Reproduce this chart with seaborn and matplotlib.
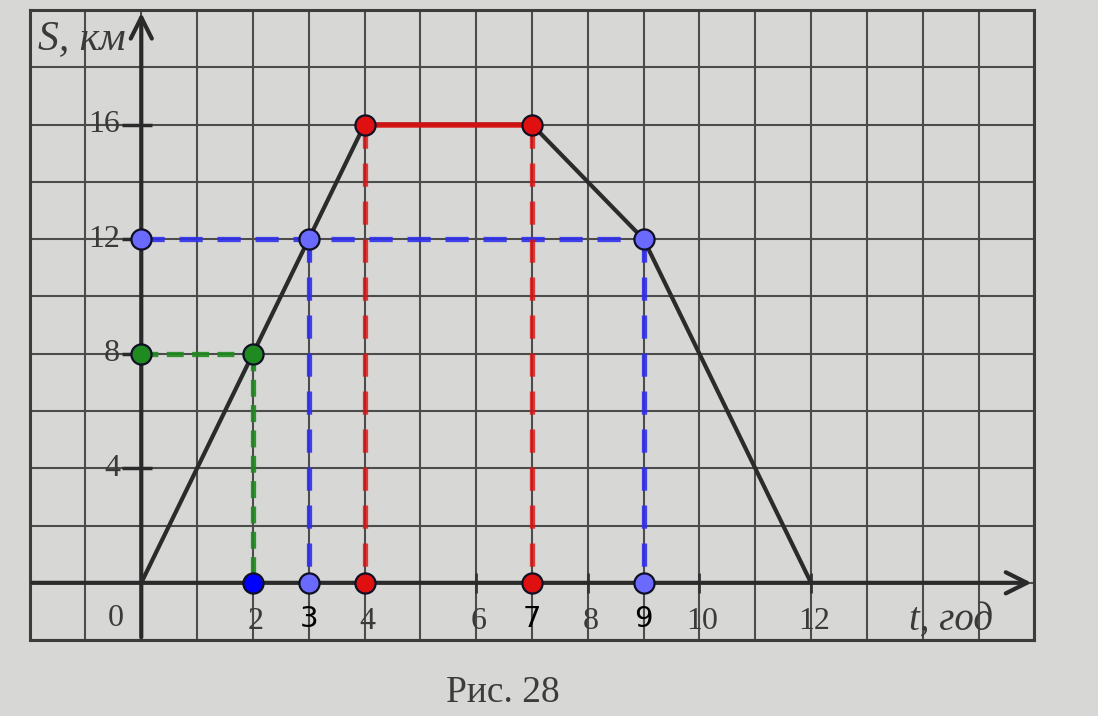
import seaborn as sns
import matplotlib.pyplot as plt

# distance-time graph S(t)
t_path = [0, 4, 7, 9, 12]
s_path = [0, 16, 16, 12, 0]

x_tick_vals = [2, 4, 6, 8, 10, 12]
y_tick_vals = [4, 8, 12, 16]

# marked points
green_t = [0, 2]
green_s = [8, 8]
red_t = [4, 7]
red_s = [16, 16]
blue_t = [0, 3, 9]
blue_s = [12, 12, 12]

# answers
drop_blue_t = [3, 9]
drop_red_t = [4, 7]
drop_green_t = [2]
answer_t = [3, 7, 9]
answer_labels = ['3', '7', '9']

paper = '#d7d7d5'
ink = '#3a3a3a'
red = '#e01010'
blue_line = '#3030ee'
blue_pt = '#6a6aff'
green = '#1f8a1f'

sns.set_theme(style='white')
plt.rcParams['font.family'] = ['DejaVu Sans']

fig = plt.figure(figsize=(10.98, 7.16), dpi=100, facecolor=paper)
ax = fig.add_axes([0.027, 0.106, 0.915, 0.88])
ax.set_facecolor(paper)
ax.set_xlim(-2, 16)
ax.set_ylim(-2, 20)

# squared paper
ax.set_xticks(range(-2, 17))
ax.set_yticks(range(-2, 21, 2))
ax.grid(True, color='#4c4c4c', lw=1.5)
ax.tick_params(length=0, labelbottom=False, labelleft=False)
for sp in ax.spines.values():
    sp.set_color('#3c3c3c')
    sp.set_linewidth(2.2)

# axes with arrows
arrow = dict(arrowstyle='->', lw=3, color='#2a2a2a', mutation_scale=38)
ax.annotate('', xy=(16, 0), xytext=(-2, 0), arrowprops=arrow, annotation_clip=False)
ax.annotate('', xy=(0, 20), xytext=(0, -2), arrowprops=arrow, annotation_clip=False)
ax.hlines(y_tick_vals, -0.35, 0.2, color='#2a2a2a', lw=2.5)
ax.vlines(x_tick_vals, -0.35, 0.35, color='#333333', lw=2)

serif = ['Liberation Serif', 'DejaVu Serif']
ax.text(-0.45, -1.25, '0', ha='center', va='center', fontsize=23, family=serif, color=ink)
for v in x_tick_vals:
    ax.text(v + 0.05, -1.35, str(v), ha='center', va='center', fontsize=23, family=serif, color=ink)
for v in y_tick_vals:
    ax.text(-0.38, v, str(v), ha='right', va='center', fontsize=23, family=serif, color=ink)
ax.text(-1.85, 19.0, 'S, км', ha='left', va='center', fontsize=30, family=serif,
        style='italic', color=ink)
ax.text(14.5, -1.3, 't, год', ha='center', va='center', fontsize=28, family=serif,
        style='italic', color=ink)

# the graph itself
sns.lineplot(x=t_path, y=s_path, sort=False, color='#2b2b2b', lw=3, ax=ax, zorder=3)

# helper lines
dash_kw = dict(lw=3.8, solid_capstyle='butt', dash_capstyle='butt', zorder=4)
ax.plot([blue_t[0], blue_t[-1]], [blue_s[0], blue_s[-1]], color=blue_line,
        dashes=(4.4, 2.8), alpha=0.9, **dash_kw)
for t in drop_blue_t:
    ax.plot([t, t], [12, 0], color=blue_line, dashes=(4.4, 2.8), alpha=0.9, **dash_kw)
for t, s in zip(red_t, red_s):
    ax.plot([t, t], [s, 0], color=red, dashes=(4.4, 2.8), alpha=0.8, **dash_kw)
ax.plot(red_t, red_s, color=red, lw=4, alpha=0.9, zorder=4)
ax.plot(green_t, green_s, color=green, dashes=(3.2, 1.6), alpha=0.9, **dash_kw)
for t in drop_green_t:
    ax.plot([t, t], [8, 0], color=green, dashes=(3.2, 1.6), alpha=0.9, **dash_kw)

# points
pt_kw = dict(s=210, edgecolor='#101025', linewidth=1.6, zorder=6, ax=ax, legend=False)
sns.scatterplot(x=green_t, y=green_s, color=green, **pt_kw)
sns.scatterplot(x=red_t, y=red_s, color=red, **pt_kw)
sns.scatterplot(x=drop_red_t, y=[0] * len(drop_red_t), color=red, **pt_kw)
sns.scatterplot(x=blue_t, y=blue_s, color=blue_pt, **pt_kw)
sns.scatterplot(x=drop_blue_t, y=[0] * len(drop_blue_t), color=blue_pt, **pt_kw)
sns.scatterplot(x=drop_green_t, y=[0], color='#0000ff', **pt_kw)

for t, lab in zip(answer_t, answer_labels):
    ax.text(t, -1.25, lab, ha='center', va='center', fontsize=21, color='black', zorder=7)

fig.text(503 / 1098, 0.008, 'Рис. 28', ha='center', va='bottom', fontsize=27,
         family=serif, color='#3c3c3c')

fig.savefig('out.png', dpi=100, facecolor=paper)
